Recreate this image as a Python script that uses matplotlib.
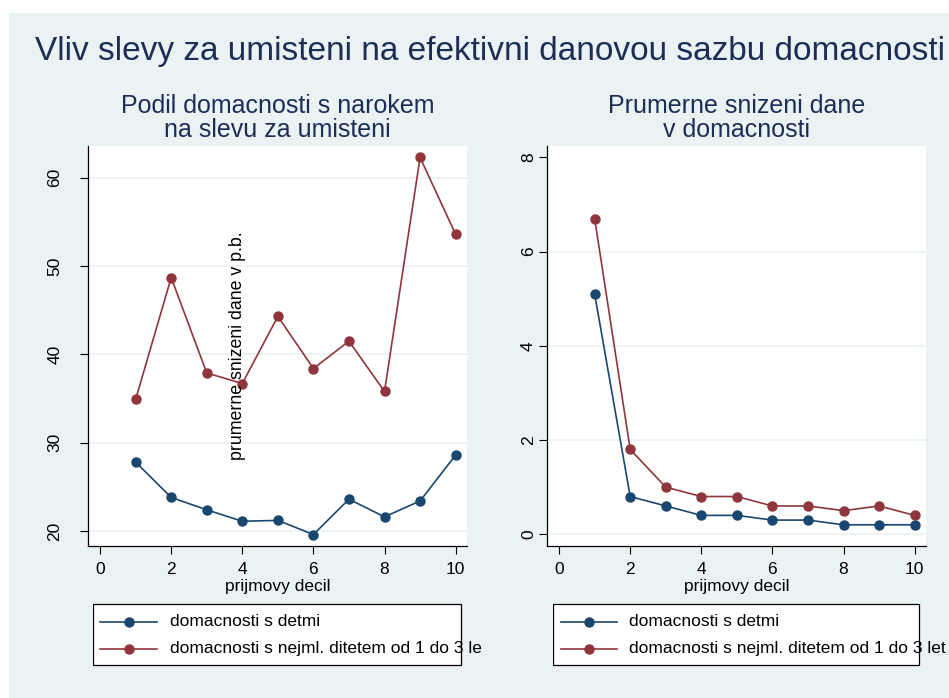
import matplotlib.pyplot as plt
from matplotlib.patches import Rectangle
from matplotlib.lines import Line2D

# data
decil = [1, 2, 3, 4, 5, 6, 7, 8, 9, 10]
podil_detmi = [27.8, 23.8, 22.4, 21.1, 21.2, 19.6, 23.6, 21.6, 23.4, 28.6]
podil_1_3 = [34.9, 48.7, 37.9, 36.7, 44.3, 38.4, 41.5, 35.8, 62.3, 53.6]
sniz_detmi = [5.1, 0.8, 0.6, 0.4, 0.4, 0.3, 0.3, 0.2, 0.2, 0.2]
sniz_1_3 = [6.7, 1.8, 1.0, 0.8, 0.8, 0.6, 0.6, 0.5, 0.6, 0.4]

xticks = [0, 2, 4, 6, 8, 10]
yticks_left = [20, 30, 40, 50, 60]
yticks_right = [0, 2, 4, 6, 8]
series_names = ['domacnosti s detmi', 'domacnosti s nejml. ditetem od 1 do 3 let']

BLUE = '#1a476f'
RED = '#90353b'
BG = '#eaf2f3'
TITLE_C = '#1e2d55'
FONT = 'Liberation Sans'

W, H = 949, 698
plt.rcParams['font.family'] = FONT

fig = plt.figure(figsize=(W / 100, H / 100), dpi=100)
fig.patch.set_facecolor('white')


def box(x0, y0, x1, y1):
    # pixel box (top-left origin) -> figure fraction rect
    return [x0 / W, 1 - y1 / H, (x1 - x0) / W, (y1 - y0) / H]


def fx(x):
    return x / W


def fy(y):
    return 1 - y / H


fig.patches.append(Rectangle((fx(9), 0), 1 - fx(9), fy(13), transform=fig.transFigure,
                             facecolor=BG, edgecolor='none', zorder=-5))

fig.text(fx(35), fy(60), 'Vliv slevy za umisteni na efektivni danovou sazbu domacnosti',
         fontsize=24, color=TITLE_C, ha='left', va='baseline')


def panel(x0, x1, y1data, y2data, yticks, ylim, gridticks, title, ypad):
    ax = fig.add_axes(box(x0, 146, x1, 546))
    ax.set_facecolor('white')
    ax.plot(decil, y1data, color=BLUE, marker='o', ms=6.5, lw=1.2, zorder=3, clip_on=False)
    ax.plot(decil, y2data, color=RED, marker='o', ms=6.5, lw=1.2, zorder=3, clip_on=False)
    ax.set_xlim(-0.34, 10.32)
    ax.set_ylim(*ylim)
    ax.set_xticks(xticks)
    ax.set_yticks(yticks)
    for g in gridticks:
        ax.axhline(g, color=BG, lw=1.3, zorder=1)
    for s in ['top', 'right']:
        ax.spines[s].set_visible(False)
    for s in ['left', 'bottom']:
        ax.spines[s].set_linewidth(0.9)
    ax.tick_params(axis='x', length=5.5, width=0.8, pad=6, labelsize=12.5)
    ax.tick_params(axis='y', length=5.5, width=0.8, pad=ypad, labelsize=12.5)
    for lab in ax.get_yticklabels():
        lab.set_rotation(90)
        lab.set_va('center')
    cx = (x0 + x1) / 2
    for line, base in zip(title, [113, 137]):
        fig.text(fx(cx), fy(base), line, fontsize=18, color=TITLE_C, ha='center',
                 va='baseline')
    fig.text(fx(cx), fy(591), 'prijmovy decil', fontsize=12.5, ha='center', va='baseline')
    return ax


ax1 = panel(88, 467, podil_detmi, podil_1_3, yticks_left, (18.3, 63.6),
            yticks_left, ['Podil domacnosti s narokem', 'na slevu za umisteni'], 13)
ax2 = panel(547, 926, sniz_detmi, sniz_1_3, yticks_right, (-0.25, 8.24),
            [0, 2, 4, 6], ['Prumerne snizeni dane', 'v domacnosti'], 2.5)

# misplaced y title sitting inside the left plot
fig.text(fx(237), fy(346), 'prumerne snizeni dane v p.b.', fontsize=12.8, rotation=90,
         ha='center', va='center')


def legend(x0, xclip, box_x1, line_x0, line_x1, text_x):
    lax = fig.add_axes(box(x0, 600, xclip, 668))
    lax.set_xlim(x0, xclip)
    lax.set_ylim(668, 600)
    lax.axis('off')
    lax.add_patch(Rectangle((x0, 604), box_x1 - x0, 61, facecolor='white',
                            edgecolor='black', lw=0.9))
    for yy, c, name in zip([622, 649], [BLUE, RED], series_names):
        lax.add_line(Line2D([line_x0, line_x1], [yy, yy], color=c, lw=1.2))
        lax.plot([(line_x0 + line_x1) / 2], [yy], 'o', color=c, ms=6.5)
        lax.text(text_x, yy, name, fontsize=12.5, ha='left', va='center', clip_on=True)


legend(93, 482, 461, 100, 157, 170)
legend(553, 949, 919, 561, 617, 629)

fig.savefig('out.png', dpi=100)
